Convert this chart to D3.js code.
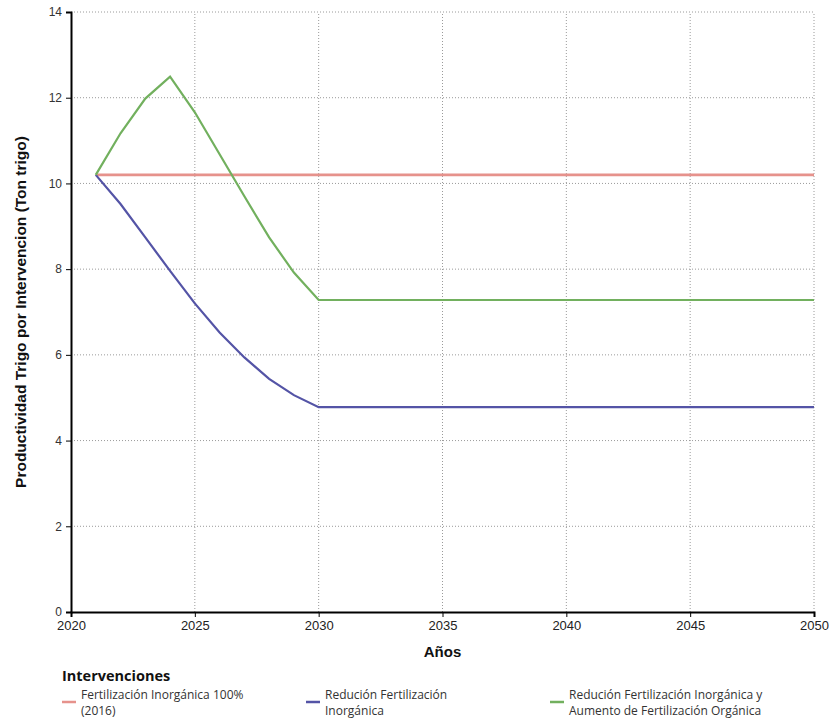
<!DOCTYPE html>
<html>
<head>
<meta charset="utf-8">
<script src="https://cdn.jsdelivr.net/npm/d3@7"></script>
<style>
  body { margin: 0; background: #fff; }
  svg { display: block; }
</style>
</head>
<body>
<svg id="chart" width="829" height="719"></svg>
<script>
const years = d3.range(2021, 2051);
const seriesNames = [
  "Fertilización Inorgánica 100% (2016)",
  "Redución Fertilización Inorgánica",
  "Redución Fertilización Inorgánica y Aumento de Fertilización Orgánica"
];
const legendLines = [
  ["Fertilización Inorgánica 100%", "(2016)"],
  ["Redución Fertilización", "Inorgánica"],
  ["Redución Fertilización Inorgánica y", "Aumento de Fertilización Orgánica"]
];
const colors = ["#e6928c", "#5454a6", "#72b05e"];
const fert100 = [10.2,10.2,10.2,10.2,10.2,10.2,10.2,10.2,10.2,10.2,
                 10.2,10.2,10.2,10.2,10.2,10.2,10.2,10.2,10.2,10.2,
                 10.2,10.2,10.2,10.2,10.2,10.2,10.2,10.2,10.2,10.2];
const reduccion = [10.2,9.52,8.74,7.96,7.2,6.52,5.94,5.44,5.06,4.78,
                   4.78,4.78,4.78,4.78,4.78,4.78,4.78,4.78,4.78,4.78,
                   4.78,4.78,4.78,4.78,4.78,4.78,4.78,4.78,4.78,4.78];
const reduccionOrg = [10.2,11.17,11.98,12.49,11.66,10.68,9.7,8.74,7.92,7.28,
                      7.28,7.28,7.28,7.28,7.28,7.28,7.28,7.28,7.28,7.28,
                      7.28,7.28,7.28,7.28,7.28,7.28,7.28,7.28,7.28,7.28];
const xTicks = [2020, 2025, 2030, 2035, 2040, 2045, 2050];
const yTicks = [0, 2, 4, 6, 8, 10, 12, 14];
const xTitle = "Años";
const yTitle = "Productividad Trigo por Intervencion (Ton trigo)";
const legendTitle = "Intervenciones";

const allSeries = [fert100, reduccion, reduccionOrg];
const widths = [2.8, 2.2, 2.2];

const svg = d3.select("#chart");
const margin = {left: 71, top: 12, right: 15, bottom: 107};
const W = 829, H = 719;
const x = d3.scaleLinear().domain([2020, 2050]).range([margin.left, W - margin.right]);
const y = d3.scaleLinear().domain([0, 14]).range([H - margin.bottom, margin.top]);

// grid
const grid = svg.append("g");
grid.selectAll("line.gy").data(yTicks.filter(d => d > 0)).enter().append("line")
  .attr("x1", x(2020)).attr("x2", x(2050))
  .attr("y1", d => y(d)).attr("y2", d => y(d))
  .attr("stroke", "#9a9a9a").attr("stroke-width", 1).attr("stroke-dasharray", "1,2");
grid.selectAll("line.gx").data(xTicks.filter(d => d > 2020)).enter().append("line")
  .attr("x1", d => x(d)).attr("x2", d => x(d))
  .attr("y1", y(0)).attr("y2", y(14))
  .attr("stroke", "#9a9a9a").attr("stroke-width", 1).attr("stroke-dasharray", "1,2");

// lines
const line = d3.line().x((d, i) => x(years[i])).y(d => y(d));
allSeries.forEach((s, i) => {
  svg.append("path").datum(s)
    .attr("fill", "none")
    .attr("stroke", colors[i])
    .attr("stroke-width", widths[i])
    .attr("d", line);
});

// axes
const yAxis = svg.append("g").attr("transform", `translate(${margin.left},0)`)
  .call(d3.axisLeft(y).tickValues(yTicks).tickSize(5).tickPadding(4).tickFormat(d3.format("d")));
yAxis.select(".domain").attr("stroke", "#000").attr("stroke-width", 2);
yAxis.selectAll(".tick line").attr("stroke", "#000");
yAxis.selectAll("text").attr("font-family", "Liberation Sans, Arial, sans-serif").attr("font-size", 12).attr("fill", "#333");

const xAxis = svg.append("g").attr("transform", `translate(0,${y(0)})`)
  .call(d3.axisBottom(x).tickValues(xTicks).tickSize(5).tickPadding(4).tickFormat(d3.format("d")));
xAxis.select(".domain").attr("stroke", "#000").attr("stroke-width", 2);
xAxis.selectAll(".tick line").attr("stroke", "#000");
xAxis.selectAll("text").attr("font-family", "Liberation Sans Narrow, Arial Narrow, sans-serif").attr("font-size", 13).attr("fill", "#222");

// titles
svg.append("text").attr("x", x(2035)).attr("y", 657)
  .attr("text-anchor", "middle").attr("font-family", "Liberation Sans Narrow, Arial Narrow, sans-serif")
  .attr("font-weight", "bold").attr("font-size", 15).attr("fill", "#111").text(xTitle);

svg.append("text").attr("transform", `translate(26,${y(7)}) rotate(-90)`)
  .attr("text-anchor", "middle").attr("font-family", "Liberation Sans, Arial, sans-serif")
  .attr("font-weight", "bold").attr("font-size", 15.5).attr("fill", "#111").text(yTitle);

// legend
svg.append("text").attr("x", 62).attr("y", 681)
  .attr("font-family", "Open Sans, sans-serif").attr("font-weight", "bold")
  .attr("font-size", 14.5).attr("fill", "#111").text(legendTitle);

const legendX = [62, 306, 550];
seriesNames.forEach((name, i) => {
  const g = svg.append("g").attr("transform", `translate(${legendX[i]},0)`);
  g.append("line").attr("x1", 0).attr("x2", 14).attr("y1", 702).attr("y2", 702)
    .attr("stroke", colors[i]).attr("stroke-width", 2.5);
  const t = g.append("text").attr("x", 19).attr("y", 699)
    .attr("font-family", "Open Sans, sans-serif").attr("font-size", 12).attr("fill", "#333");
  legendLines[i].forEach((ln, j) => {
    t.append("tspan").attr("x", 19).attr("dy", j === 0 ? 0 : 16).text(ln);
  });
});
</script>
</body>
</html>
